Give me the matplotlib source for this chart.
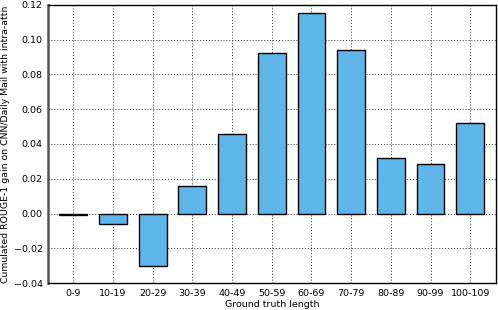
import matplotlib.pyplot as plt
import numpy as np

# data
bins = ["0-9", "10-19", "20-29", "30-39", "40-49", "50-59",
        "60-69", "70-79", "80-89", "90-99", "100-109"]
gain = [-0.001, -0.0063, -0.0302, 0.016, 0.0457, 0.0922,
        0.1153, 0.0942, 0.0322, 0.0287, 0.0522]
yticks = [-0.04, -0.02, 0.0, 0.02, 0.04, 0.06, 0.08, 0.10, 0.12]

fig = plt.figure(figsize=(4.98, 3.10), dpi=100)
ax = fig.add_axes([0.097, 0.087, 0.899, 0.897])

x = np.arange(len(bins))
ax.bar(x, gain, width=0.7, color="#5db5ea", edgecolor="black",
       linewidth=1, zorder=3)

ax.set_xticks(x)
ax.set_xticklabels(bins, fontsize=6.8)
ax.set_xlim(-0.63, 10.65)
ax.set_ylim(-0.04, 0.12)
ax.set_yticks(yticks)
ax.set_yticklabels([f"{v:.2f}".replace("-", "\u2212") for v in yticks],
                   fontsize=6.8)
ax.tick_params(length=0, pad=4)
ax.grid(True, color="#333333", linestyle=(0, (1, 2)), linewidth=0.7, zorder=0)
for s in ax.spines.values():
    s.set_linewidth(1)
ax.spines["left"].set_color("#555555")
ax.spines["left"].set_linewidth(1.8)

ax.set_xlabel("Ground truth length", fontsize=6.8, labelpad=2)
ax.set_ylabel("Cumulated ROUGE-1 gain on CNN/Daily Mail with intra-attn",
              fontsize=6.75, labelpad=3)

fig.savefig("out.png", dpi=100)
